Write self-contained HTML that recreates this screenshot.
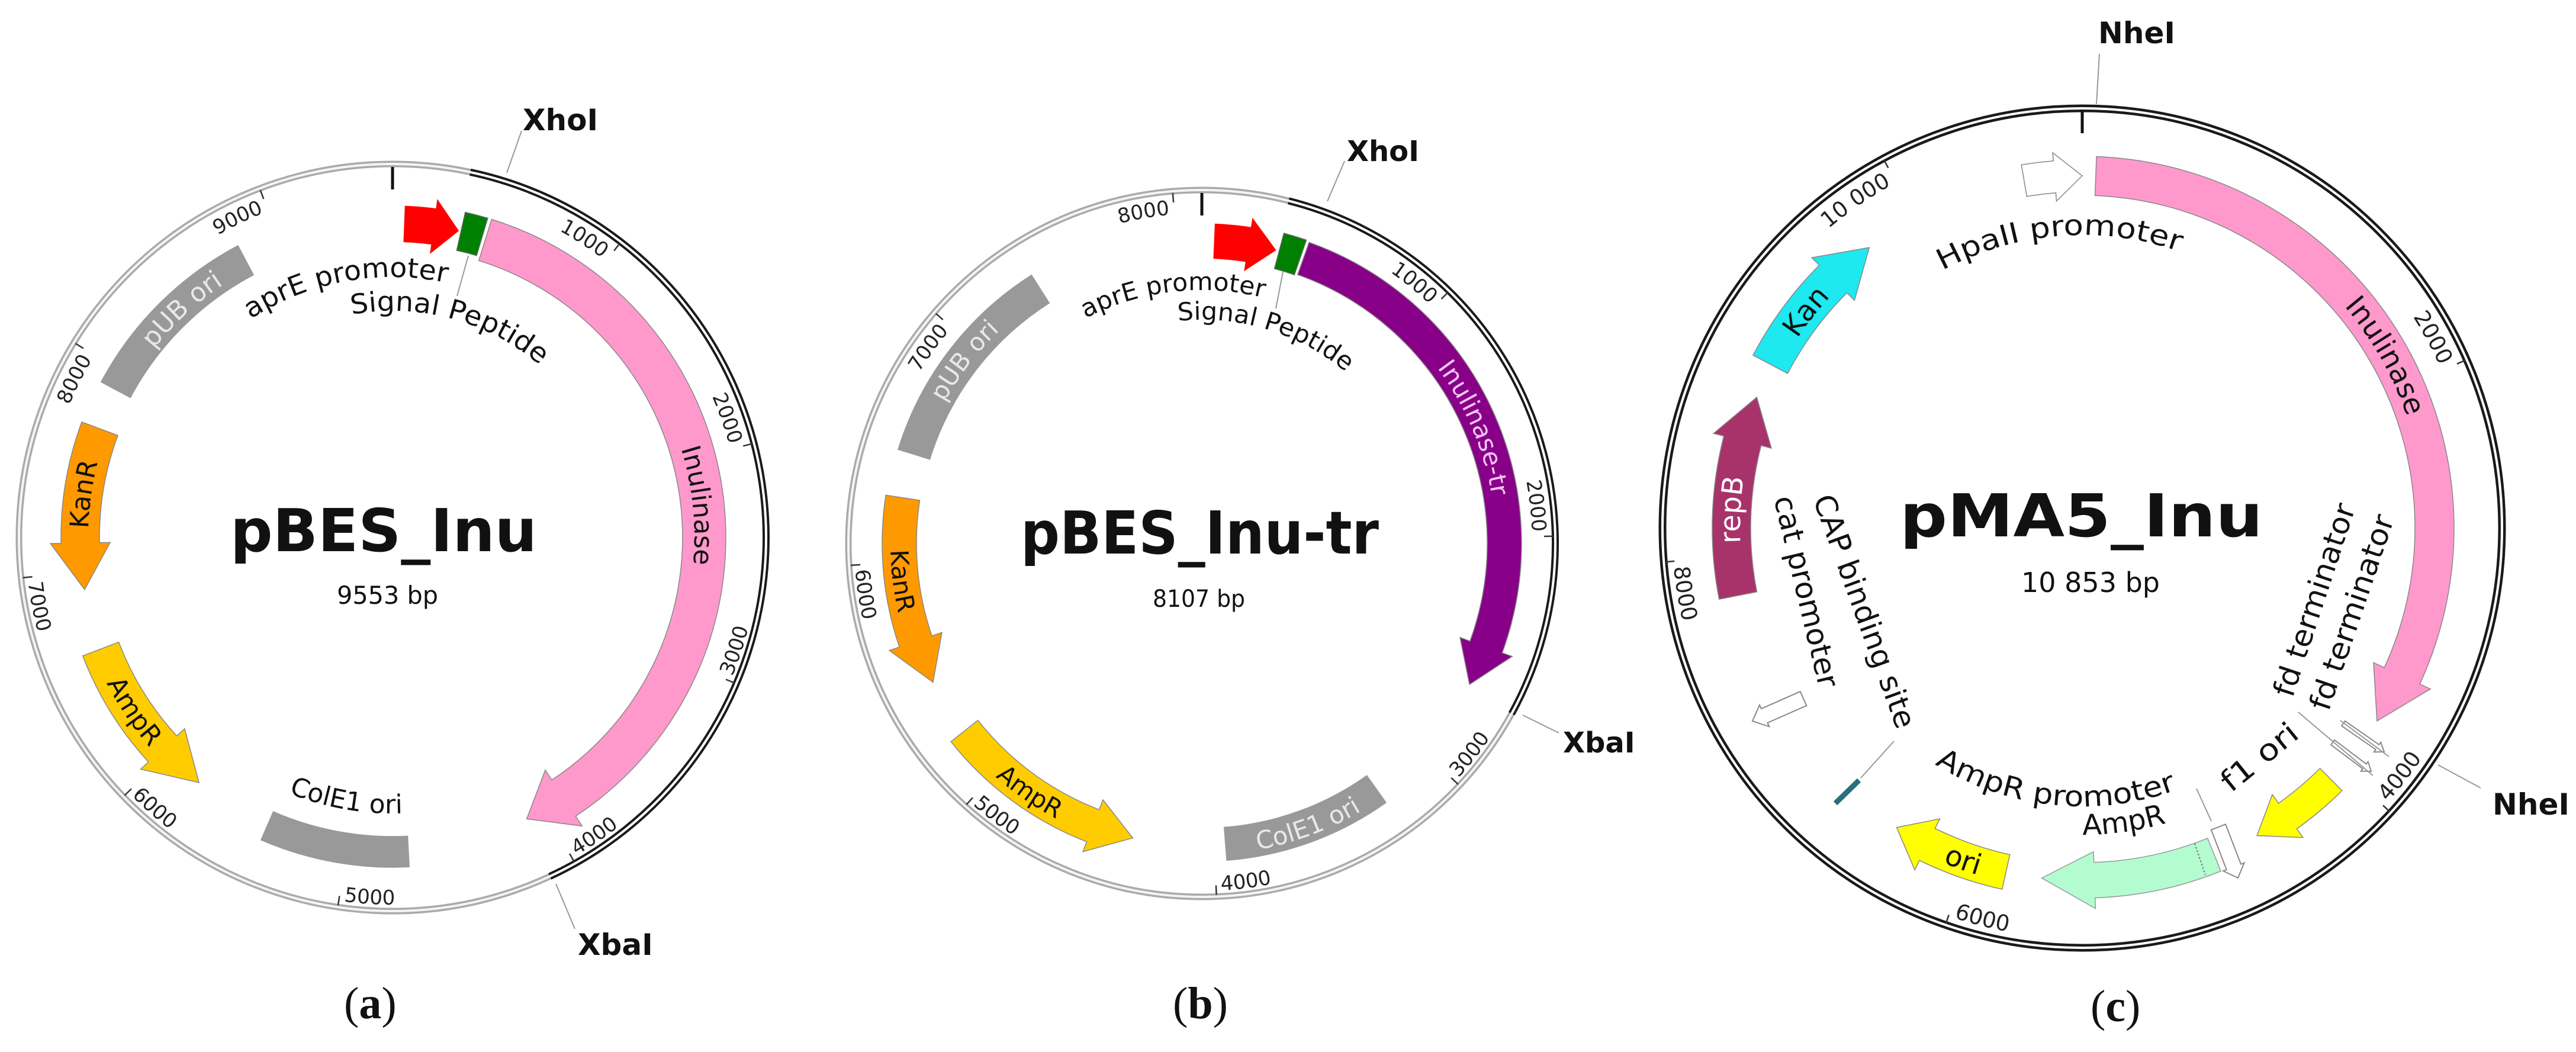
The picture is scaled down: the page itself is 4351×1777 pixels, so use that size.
<!DOCTYPE html>
<html><head><meta charset="utf-8"><style>
html,body{margin:0;padding:0;background:#fff}
svg{display:block}
text{font-family:"DejaVu Sans","Liberation Sans",sans-serif;fill:#111}
.t{font-weight:bold}
.k{font-size:34px;fill:#222}
.kb{font-size:34px;fill:#222}
.kc{font-size:37px;fill:#222}
.cap{font-family:"Liberation Serif",serif;font-size:76px}
</style></head><body>
<svg id="s" width="4351" height="1777" viewBox="0 0 4351 1777" xmlns="http://www.w3.org/2000/svg">
<rect width="4351" height="1777" fill="#fff"/>
<defs>
<path id="pa1" d=""/><path id="pa2" d=""/><path id="pa3" d=""/><path id="pa4" d=""/><path id="pa5" d=""/><path id="pa6" d=""/><path id="pa7" d=""/>
<path id="pb1" d=""/><path id="pb2" d=""/><path id="pb3" d=""/><path id="pb4" d=""/><path id="pb5" d=""/><path id="pb6" d=""/><path id="pb7" d=""/>
<path id="pc1" d=""/><path id="pc2" d=""/><path id="pc3" d=""/><path id="pc4" d=""/><path id="pc5" d=""/><path id="pc6" d=""/><path id="pc7" d=""/>
<path id="ka1" d=""/><path id="ka2" d=""/><path id="ka3" d=""/><path id="ka4" d=""/><path id="ka5" d=""/><path id="ka6" d=""/><path id="ka7" d=""/><path id="ka8" d=""/><path id="ka9" d=""/>
<path id="kb1" d=""/><path id="kb2" d=""/><path id="kb3" d=""/><path id="kb4" d=""/><path id="kb5" d=""/><path id="kb6" d=""/><path id="kb7" d=""/><path id="kb8" d=""/>
<path id="kc1" d=""/><path id="kc2" d=""/><path id="kc3" d=""/><path id="kc4" d=""/><path id="kc5" d=""/>
</defs>
<circle cx="663" cy="908" r="631" fill="none" stroke="#aaa" stroke-width="11"/>
<circle cx="663" cy="908" r="631" fill="none" stroke="#f4f4f4" stroke-width="4"/>
<circle cx="2030" cy="918" r="597" fill="none" stroke="#aaa" stroke-width="11"/>
<circle cx="2030" cy="918" r="597" fill="none" stroke="#f4f4f4" stroke-width="4"/>
<circle cx="3517" cy="892" r="709" fill="none" stroke="#1a1a1a" stroke-width="13"/>
<circle cx="3517" cy="892" r="709" fill="none" stroke="#fff" stroke-width="4"/>
<g id="g"></g>
<g stroke="#999" stroke-width="2" fill="none">
<line x1="856" y1="292" x2="881" y2="221"/><line x1="939" y1="1493" x2="971" y2="1569"/><line x1="791" y1="432" x2="772" y2="500"/>
<line x1="2242" y1="340" x2="2271" y2="272"/><line x1="2572" y1="1208" x2="2633" y2="1238"/><line x1="2167" y1="459" x2="2155" y2="521"/>
<line x1="3541" y1="176" x2="3546" y2="91"/><line x1="4118" y1="1292" x2="4190" y2="1331"/>
<line x1="3882" y1="1203" x2="4008" y2="1310"/><line x1="3953" y1="1217" x2="4035" y2="1278"/>
<line x1="3710" y1="1332" x2="3735" y2="1387"/><line x1="3143" y1="1314" x2="3199" y2="1252"/>
<line x1="3707" y1="1425" x2="3725" y2="1478" stroke="#777" stroke-dasharray="3,3"/>
</g>
<line x1="3100" y1="1357" x2="3140" y2="1318" stroke="#2a6f80" stroke-width="9"/>

<text class="t" x="883" y="220" font-size="50">XhoI</text>
<text class="t" x="976" y="1613" font-size="50">XbaI</text>
<text class="t" x="389" y="931" font-size="100" textLength="518" lengthAdjust="spacingAndGlyphs">pBES_Inu</text>
<text x="569" y="1020" font-size="42" textLength="171" lengthAdjust="spacingAndGlyphs">9553 bp</text>
<text class="cap" x="581" y="1720">(<tspan font-weight="bold">a</tspan>)</text>
<text font-size="46"><textPath href="#pa1" textLength="345" lengthAdjust="spacingAndGlyphs">aprE promoter</textPath></text>
<text font-size="46"><textPath href="#pa2" textLength="340" lengthAdjust="spacingAndGlyphs">Signal Peptide</textPath></text>
<text font-size="44"><textPath href="#pa3" startOffset="50%" text-anchor="middle">Inulinase</textPath></text>
<text font-size="44" style="fill:#e8e8e8"><textPath href="#pa4" startOffset="50%" text-anchor="middle">pUB ori</textPath></text>
<text font-size="44"><textPath href="#pa5" startOffset="50%" text-anchor="middle">KanR</textPath></text>
<text font-size="44"><textPath href="#pa6" startOffset="50%" text-anchor="middle">AmpR</textPath></text>
<text font-size="44"><textPath href="#pa7" startOffset="50%" text-anchor="middle">ColE1 ori</textPath></text>
<text class="k"><textPath href="#ka1" startOffset="100%" text-anchor="end">1000</textPath></text>
<text class="k"><textPath href="#ka2" startOffset="100%" text-anchor="end">2000</textPath></text>
<text class="k"><textPath href="#ka3">3000</textPath></text>
<text class="k"><textPath href="#ka4">4000</textPath></text>
<text class="k"><textPath href="#ka5">5000</textPath></text>
<text class="k"><textPath href="#ka6">6000</textPath></text>
<text class="k"><textPath href="#ka7">7000</textPath></text>
<text class="k"><textPath href="#ka8" startOffset="100%" text-anchor="end">8000</textPath></text>
<text class="k"><textPath href="#ka9" startOffset="100%" text-anchor="end">9000</textPath></text>

<text class="t" x="2275" y="272" font-size="48">XhoI</text>
<text class="t" x="2640" y="1271" font-size="48">XbaI</text>
<text class="t" x="1724" y="935" font-size="100" textLength="605" lengthAdjust="spacingAndGlyphs">pBES_Inu-tr</text>
<text x="1947" y="1025" font-size="40" textLength="156" lengthAdjust="spacingAndGlyphs">8107 bp</text>
<text class="cap" x="1981" y="1720">(<tspan font-weight="bold">b</tspan>)</text>
<text font-size="42"><textPath href="#pb1" textLength="309" lengthAdjust="spacingAndGlyphs">aprE promoter</textPath></text>
<text font-size="42"><textPath href="#pb2" textLength="304" lengthAdjust="spacingAndGlyphs">Signal Peptide</textPath></text>
<text font-size="42" style="fill:#f4c6f4"><textPath href="#pb3" startOffset="50%" text-anchor="middle">Inulinase-tr</textPath></text>
<text font-size="42" style="fill:#e8e8e8"><textPath href="#pb4" startOffset="50%" text-anchor="middle">pUB ori</textPath></text>
<text font-size="42"><textPath href="#pb5" startOffset="50%" text-anchor="middle">KanR</textPath></text>
<text font-size="42"><textPath href="#pb6" startOffset="50%" text-anchor="middle">AmpR</textPath></text>
<text font-size="42" style="fill:#e8e8e8"><textPath href="#pb7" startOffset="50%" text-anchor="middle">ColE1 ori</textPath></text>
<text class="kb"><textPath href="#kb1" startOffset="100%" text-anchor="end">1000</textPath></text>
<text class="kb"><textPath href="#kb2" startOffset="100%" text-anchor="end">2000</textPath></text>
<text class="kb"><textPath href="#kb3">3000</textPath></text>
<text class="kb"><textPath href="#kb4">4000</textPath></text>
<text class="kb"><textPath href="#kb5">5000</textPath></text>
<text class="kb"><textPath href="#kb6">6000</textPath></text>
<text class="kb"><textPath href="#kb7" startOffset="100%" text-anchor="end">7000</textPath></text>
<text class="kb"><textPath href="#kb8" startOffset="100%" text-anchor="end">8000</textPath></text>

<text class="t" x="3544" y="73" font-size="50">NheI</text>
<text class="t" x="4210" y="1376" font-size="50">NheI</text>
<text class="t" x="3209" y="906" font-size="100" textLength="613" lengthAdjust="spacingAndGlyphs">pMA5_Inu</text>
<text x="3414" y="1000" font-size="46" textLength="234" lengthAdjust="spacingAndGlyphs">10 853 bp</text>
<text class="cap" x="3531" y="1725">(<tspan font-weight="bold">c</tspan>)</text>
<text font-size="48"><textPath href="#pc1" textLength="413" lengthAdjust="spacingAndGlyphs">HpaII promoter</textPath></text>
<text font-size="48"><textPath href="#pc2" startOffset="50%" text-anchor="middle">Inulinase</textPath></text>
<text font-size="48"><textPath href="#pc3" startOffset="50%" text-anchor="middle">Kan</textPath></text>
<text font-size="48" style="fill:#fff"><textPath href="#pc4" startOffset="50%" text-anchor="middle">repB</textPath></text>
<text font-size="48"><textPath href="#pc5" startOffset="50%" text-anchor="middle">ori</textPath></text>
<text font-size="48"><textPath href="#pc6" textLength="425" lengthAdjust="spacingAndGlyphs">AmpR promoter</textPath></text>
<text font-size="48"><textPath href="#pc7" startOffset="50%" text-anchor="middle">AmpR</textPath></text>
<text font-size="50" x="3872" y="1180" transform="rotate(-71.7 3872 1180)" textLength="340" lengthAdjust="spacingAndGlyphs">fd terminator</text>
<text font-size="50" x="3933" y="1203" transform="rotate(-71.2 3933 1203)" textLength="345" lengthAdjust="spacingAndGlyphs">fd terminator</text>
<text font-size="50" x="3768" y="1340" transform="rotate(-39 3768 1340)" textLength="152" lengthAdjust="spacingAndGlyphs">f1 ori</text>
<text font-size="50" x="3062" y="843" transform="rotate(70 3062 843)" textLength="416" lengthAdjust="spacingAndGlyphs">CAP binding site</text>
<text font-size="50" x="2996" y="842" transform="rotate(76.6 2996 842)" textLength="331" lengthAdjust="spacingAndGlyphs">cat promoter</text>
<text class="kc"><textPath href="#kc1" startOffset="100%" text-anchor="end">2000</textPath></text>
<text class="kc"><textPath href="#kc2">4000</textPath></text>
<text class="kc"><textPath href="#kc3">6000</textPath></text>
<text class="kc"><textPath href="#kc4">8000</textPath></text>
<text class="kc"><textPath href="#kc5" startOffset="100%" text-anchor="end">10 000</textPath></text>
</svg>
<script>
(function(){
var NS="http://www.w3.org/2000/svg",G=document.getElementById('g');
function P(c,r,a){a=a*Math.PI/180;return (c[0]+r*Math.sin(a)).toFixed(1)+','+(c[1]-r*Math.cos(a)).toFixed(1);}
function A(c,r,a1,a2){return 'A'+r+','+r+' 0 '+(Math.abs(a2-a1)>180?1:0)+' '+(a2>a1?1:0)+' '+P(c,r,a2);}
function arcD(c,r,a1,a2){return 'M'+P(c,r,a1)+' '+A(c,r,a1,a2);}
function add(t,at){var e=document.createElementNS(NS,t);for(var k in at)e.setAttribute(k,at[k]);G.appendChild(e);return e;}
function feat(c,r1,r2,a1,a2,ah,e,fill,stroke){
 var d,rm=(r1+r2)/2;
 if(ah==null)d='M'+P(c,r2,a1)+' '+A(c,r2,a1,a2)+' L'+P(c,r1,a2)+' '+A(c,r1,a2,a1)+' Z';
 else d='M'+P(c,r2,a1)+' '+A(c,r2,a1,ah)+' L'+P(c,r2+e,ah)+' L'+P(c,rm,a2)+' L'+P(c,r1-e,ah)+' L'+P(c,r1,ah)+' '+A(c,r1,ah,a1)+' Z';
 add('path',{d:d,fill:fill,stroke:stroke||'#888','stroke-width':1.5});
}
function setp(id,c,r,a1,a2){document.getElementById(id).setAttribute('d',arcD(c,r,a1,a2));}
function harrow(x1,y1,x2,y2,w,hw,hl){
 var dx=x2-x1,dy=y2-y1,L=Math.sqrt(dx*dx+dy*dy),ux=dx/L,uy=dy/L,nx=-uy,ny=ux;
 var bx=x2-ux*hl,by=y2-uy*hl;
 function p(x,y){return x.toFixed(1)+','+y.toFixed(1);}
 var pts=[p(x1+nx*w/2,y1+ny*w/2),p(bx+nx*w/2,by+ny*w/2),p(bx+nx*hw/2,by+ny*hw/2),p(x2,y2),p(bx-nx*hw/2,by-ny*hw/2),p(bx-nx*w/2,by-ny*w/2),p(x1-nx*w/2,y1-ny*w/2)];
 add('polygon',{points:pts.join(' '),fill:'#fff',stroke:'#888','stroke-width':2});
}
function ticks(c,Rout,list,prefix,cwb,ccwb){
 list.forEach(function(T,i){
  var cw=(T%360<90||T%360>270);
  if(cw)setp(prefix+(i+1),c,cwb,T-30,T-0.8);else setp(prefix+(i+1),c,ccwb,T-0.8,T-30);
  var p1=P(c,Rout-24,T).split(','),p2=P(c,Rout-8,T).split(',');
  add('line',{x1:p1[0],y1:p1[1],x2:p2[0],y2:p2[1],stroke:'#333','stroke-width':2.5});
 });
}
function topTick(c,R){var p1=P(c,R-48,0).split(','),p2=P(c,R-10,0).split(',');add('line',{x1:p1[0],y1:p1[1],x2:p2[0],y2:p2[1],stroke:'#111','stroke-width':5});}
function blackArc(c,r,a1,a2){add('path',{d:arcD(c,r,a1,a2),fill:'none',stroke:'#1a1a1a','stroke-width':12});add('path',{d:arcD(c,r,a1,a2),fill:'none',stroke:'#fff','stroke-width':4});}

var a=[663,908];
blackArc(a,631,12.0,155.1);
topTick(a,636);
feat(a,500,560,2.2,12.1,7.6,15,'#ff0000','#ff0000');
feat(a,497,563,12.6,16.6,null,0,'#008000','#666');
feat(a,490,563,17.3,154.5,146.7,20,'#ff99cc');
feat(a,502,558,-61.9,-27.9,null,0,'#999999','#999');
feat(a,495,560,-69.6,-99.6,-91,18,'#ff9900');
feat(a,495,560,-110.9,-141.7,-132.6,18,'#ffcc00');
feat(a,505,557,-182.9,-156.5,null,0,'#999999','#999');
setp('pa1',a,440,-33,12); setp('pa2',a,383,-10.4,40.4);
setp('pa3',a,510,39,129); setp('pa4',a,514,-72.7,-12.7);
setp('pa5',a,514,-112,-52); setp('pa6',a,542,-93.9,-153.9);
setp('pa7',a,466,-140,-200);
ticks(a,636,[37.68,75.37,113.05,150.74,188.42,226.1,263.79,301.47,339.16],'ka',590,620);

var b=[2030,918];
blackArc(b,597,14.2,118.8);
topTick(b,602);
feat(b,482,540,2.4,14.1,8.9,15,'#ff0000','#ff0000');
feat(b,480,542,14.8,19.0,null,0,'#008000','#666');
feat(b,482,540,19.6,117.8,110,18,'#880088');
feat(b,481,537,-72.8,-32.4,null,0,'#999999','#999');
feat(b,482,540,-81.3,-117.3,-108.9,18,'#ff9900');
feat(b,482,540,-128.3,-166.8,-158.9,18,'#ffcc00');
feat(b,481,537,144.6,175.5,null,0,'#999999','#999');
setp('pb1',b,428,-27.3,14.1); setp('pb2',b,378,-6.1,40);
setp('pb3',b,496,22,112); setp('pb4',b,496,-82.4,-22.4);
setp('pb5',b,526,-67.1,-127.1); setp('pb6',b,526,-115.3,-175.3);
setp('pb7',b,526,189.4,129.4);
ticks(b,602,[44.41,88.81,133.22,177.63,222.03,266.44,310.84,355.25],'kb',558,587);

var c=[3517,892];
topTick(c,715);
feat(c,568,622,-9.5,0,-4.5,14,'#ffffff','#888');
feat(c,562,628,2.2,123.2,114.8,20,'#ff99cc');
feat(c,562,628,-62.3,-37.2,-45,18,'#1ee8f0');
feat(c,560,625,-101.1,-68.1,-75.6,18,'#a8336b');
feat(c,565,625,-167.5,-148.2,-153.9,18,'#ffff00','#888');
feat(c,565,625,158,186.6,178,18,'#b3fcd0','#999');
feat(c,571,624,135.3,150.4,144.5,18,'#ffff00','#888');
harrow(3958,1222,4027,1270,10,20,14);
harrow(3940,1254,4005,1303,10,20,14);
harrow(3747,1397,3780,1483,26,38,20);
harrow(3046,1180,2960,1218,26,40,22);
setp('pc1',c,495,-28.5,19.3); setp('pc2',c,580,15.4,105.4);
setp('pc3',c,578,-81.9,-21.9); setp('pc4',c,578,-117,-57);
setp('pc5',c,612,-130.3,-190.3); setp('pc6',c,470,212,157);
setp('pc7',c,518,202,142);
ticks(c,715,[66.34,132.68,199.02,265.36,331.7],'kc',663,693);
})();
</script>
</body></html>
